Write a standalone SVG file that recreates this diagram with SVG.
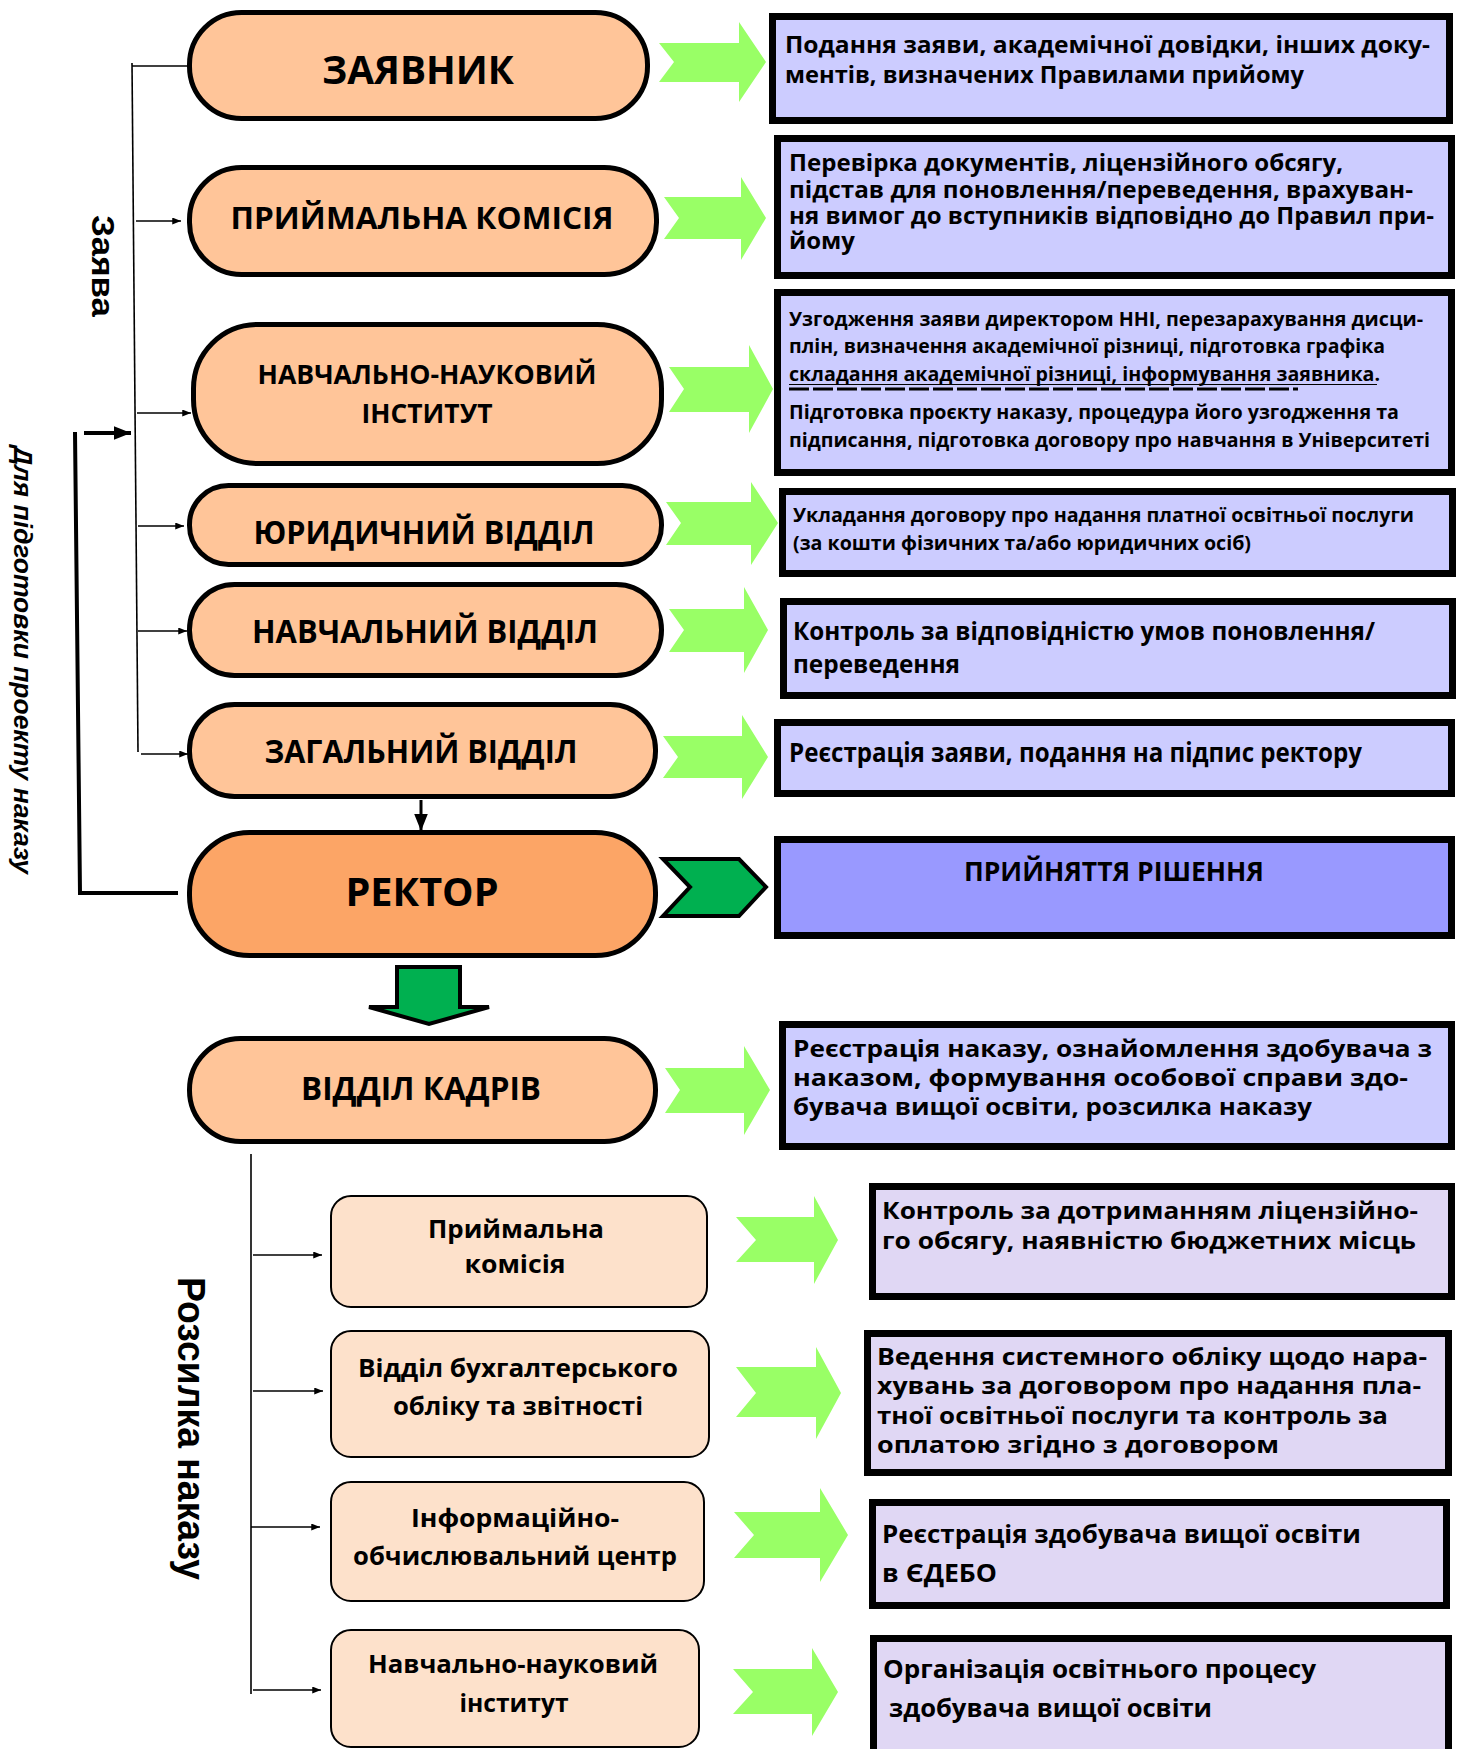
<svg xmlns="http://www.w3.org/2000/svg" width="1457" height="1749" viewBox="0 0 1457 1749">
<style>
text{font-family:"Open Sans","Noto Sans","DejaVu Sans",sans-serif;font-weight:bold;fill:#000}
.pill{fill:#FFC599;stroke:#000;stroke-width:5}
.rector{fill:#FCA566;stroke:#000;stroke-width:5}
.box{fill:#CCCCFF;stroke:#000;stroke-width:7}
.boxd{fill:#9999FF;stroke:#000;stroke-width:7}
.boxl{fill:#E0D7F4;stroke:#000;stroke-width:7}
.sub{fill:#FDE1CB;stroke:#000;stroke-width:2}
.ga{fill:#99FF66}
.dg{fill:#00B050;stroke:#000;stroke-width:4;stroke-linejoin:miter}
.thin{stroke:#000;stroke-width:1.6;fill:none}
.thick{stroke:#000;stroke-width:4;fill:none}
.pt{text-anchor:middle}
.side{font-family:"Liberation Sans",Arial,sans-serif;font-weight:bold}
</style>
<defs>
<marker id="ah" viewBox="0 0 10 8" refX="10" refY="4" markerWidth="9" markerHeight="7" markerUnits="userSpaceOnUse" orient="auto"><path d="M0,0 L10,4 L0,8 z" fill="#000"/></marker>
<marker id="ahb" viewBox="0 0 10 8" refX="10" refY="4" markerWidth="17" markerHeight="14" markerUnits="userSpaceOnUse" orient="auto"><path d="M0,0 L10,4 L0,8 z" fill="#000"/></marker>
</defs>

<g id="connectors">
<polyline class="thin" points="132,63 138,752"/>
<line class="thin" x1="132" y1="66" x2="189" y2="66"/>
<line class="thin" x1="136" y1="221" x2="181" y2="221" marker-end="url(#ah)"/>
<line class="thin" x1="137" y1="413" x2="191" y2="413" marker-end="url(#ah)"/>
<line class="thin" x1="138" y1="526" x2="184" y2="526" marker-end="url(#ah)"/>
<line class="thin" x1="138" y1="631" x2="187" y2="631" marker-end="url(#ah)"/>
<line class="thin" x1="141" y1="754" x2="188" y2="754" marker-end="url(#ah)"/>
<polyline class="thick" points="75,432 80,893 178,893"/>
<line class="thick" x1="84" y1="433" x2="131" y2="433" marker-end="url(#ahb)"/>
<line x1="421" y1="800" x2="421" y2="831" stroke="#000" stroke-width="3" marker-end="url(#ahb)"/>
<line class="thin" x1="251" y1="1154" x2="251" y2="1694" stroke-width="2"/>
<line class="thin" x1="253" y1="1255" x2="322" y2="1255" marker-end="url(#ah)"/>
<line class="thin" x1="253" y1="1391" x2="323" y2="1391" marker-end="url(#ah)"/>
<line class="thin" x1="251" y1="1527" x2="320" y2="1527" marker-end="url(#ah)"/>
<line class="thin" x1="253" y1="1690" x2="321" y2="1690" marker-end="url(#ah)"/>
<polygon class="ga" points="659,43 739,43 739,22 766,62 739,102 739,82 659,82 674,62"/>
<polygon class="ga" points="664,197 741,197 741,177 766,218 741,260 741,239 664,239 679,218"/>
<polygon class="ga" points="669,367 749,367 749,345 773,389 749,433 749,412 669,412 684,389"/>
<polygon class="ga" points="666,502 751,502 751,482 778,523 751,565 751,545 666,545 681,523"/>
<polygon class="ga" points="669,609 744,609 744,587 768,630 744,673 744,652 669,652 684,630"/>
<polygon class="ga" points="663,736 742,736 742,715 768,757 742,799 742,778 663,778 678,757"/>
<polygon class="ga" points="665,1068 744,1068 744,1046 770,1090 744,1135 744,1113 665,1113 680,1090"/>
<polygon class="ga" points="736,1217 814,1217 814,1196 838,1240 814,1284 814,1262 736,1262 756,1240"/>
<polygon class="ga" points="736,1367 816,1367 816,1347 841,1393 816,1439 816,1417 736,1417 756,1393"/>
<polygon class="ga" points="734,1512 820,1512 820,1488 848,1535 820,1582 820,1558 734,1558 754,1535"/>
<polygon class="ga" points="733,1669 812,1669 812,1648 838,1692 812,1736 812,1714 733,1714 753,1692"/>
<polygon class="dg" points="663,859 739,859 766,887 739,916 663,916 690,887"/>
<polygon class="dg" stroke-width="5" points="397,967 460,967 460,1007 489,1007 429,1024 369,1007 397,1007"/>
</g>

<g id="side-labels">
<text class="side" transform="translate(92,215) rotate(90)" font-size="32" textLength="102" lengthAdjust="spacingAndGlyphs">Заява</text>
<text class="side" transform="translate(14,446) rotate(90)" font-size="26" font-style="italic" textLength="428" lengthAdjust="spacingAndGlyphs">Для підготовки проекту наказу</text>
<text class="side" transform="translate(178,1277) rotate(90)" font-size="38" textLength="303" lengthAdjust="spacingAndGlyphs">Розсилка наказу</text>
</g>

<g id="n-zayavnyk">
<rect class="pill" x="189.5" y="12.5" width="458" height="106" rx="52"/>
<text class="pt" x="418" y="84" font-size="40" textLength="192" lengthAdjust="spacingAndGlyphs">ЗАЯВНИК</text>
</g>
<g id="n-pk">
<rect class="pill" x="189.5" y="167.5" width="467" height="107" rx="52"/>
<text class="pt" x="422" y="229" font-size="31" textLength="383" lengthAdjust="spacingAndGlyphs">ПРИЙМАЛЬНА КОМІСІЯ</text>
</g>
<g id="n-nni">
<rect class="pill" x="193.5" y="324.5" width="468" height="139" rx="64"/>
<text class="pt" x="427" y="384" font-size="27" textLength="339" lengthAdjust="spacingAndGlyphs">НАВЧАЛЬНО-НАУКОВИЙ</text>
<text class="pt" x="427" y="423" font-size="27" textLength="131" lengthAdjust="spacingAndGlyphs">ІНСТИТУТ</text>
</g>
<g id="n-yur">
<rect class="pill" x="189.5" y="485.5" width="472" height="79" rx="39"/>
<text class="pt" x="424" y="544" font-size="33" textLength="341" lengthAdjust="spacingAndGlyphs">ЮРИДИЧНИЙ ВІДДІЛ</text>
</g>
<g id="n-navch">
<rect class="pill" x="189.5" y="584.5" width="472" height="91" rx="45"/>
<text class="pt" x="425" y="643" font-size="33" textLength="346" lengthAdjust="spacingAndGlyphs">НАВЧАЛЬНИЙ ВІДДІЛ</text>
</g>
<g id="n-zag">
<rect class="pill" x="189.5" y="704.5" width="466" height="92" rx="45"/>
<text class="pt" x="421" y="763" font-size="33" textLength="313" lengthAdjust="spacingAndGlyphs">ЗАГАЛЬНИЙ ВІДДІЛ</text>
</g>
<g id="n-rector">
<rect class="rector" x="189.5" y="832.5" width="466" height="123" rx="60"/>
<text class="pt" x="422" y="906" font-size="40" textLength="153" lengthAdjust="spacingAndGlyphs">РЕКТОР</text>
</g>
<g id="n-kadry">
<rect class="pill" x="189.5" y="1038.5" width="466" height="103" rx="51"/>
<text class="pt" x="421" y="1100" font-size="32" textLength="240" lengthAdjust="spacingAndGlyphs">ВІДДІЛ КАДРІВ</text>
</g>

<g id="b-1">
<rect class="box" x="772.5" y="16.5" width="677" height="104"/>
<text x="785" y="53" font-size="24" textLength="645" lengthAdjust="spacingAndGlyphs">Подання заяви, академічної довідки, інших доку-</text>
<text x="785" y="83" font-size="24" textLength="519" lengthAdjust="spacingAndGlyphs">ментів, визначених Правилами прийому</text>
</g>
<g id="b-2">
<rect class="box" x="777.5" y="138.5" width="674" height="137"/>
<text x="789" y="171" font-size="23" textLength="554" lengthAdjust="spacingAndGlyphs">Перевірка документів, ліцензійного обсягу,</text>
<text x="789" y="198" font-size="23" textLength="624" lengthAdjust="spacingAndGlyphs">підстав для поновлення/переведення, врахуван-</text>
<text x="789" y="224" font-size="23" textLength="645" lengthAdjust="spacingAndGlyphs">ня вимог до вступників відповідно до Правил при-</text>
<text x="789" y="249" font-size="23" textLength="66" lengthAdjust="spacingAndGlyphs">йому</text>
</g>
<g id="b-3">
<rect class="box" x="777.5" y="292.5" width="674" height="180"/>
<text x="789" y="326" font-size="19" textLength="634" lengthAdjust="spacingAndGlyphs">Узгодження заяви директором ННІ, перезарахування дисци-</text>
<text x="789" y="353" font-size="19" textLength="596" lengthAdjust="spacingAndGlyphs">плін, визначення академічної різниці, підготовка графіка</text>
<text x="789" y="381" font-size="19" textLength="591" lengthAdjust="spacingAndGlyphs">складання академічної різниці, інформування заявника.</text>
<line x1="789" y1="384.5" x2="1377" y2="384.5" stroke="#000" stroke-width="1.2"/>
<line x1="789" y1="389" x2="1298" y2="389" stroke="#000" stroke-width="3" stroke-dasharray="20 4"/>
<text x="789" y="419" font-size="19" textLength="610" lengthAdjust="spacingAndGlyphs">Підготовка проєкту наказу, процедура його узгодження та</text>
<text x="789" y="447" font-size="19" textLength="641" lengthAdjust="spacingAndGlyphs">підписання, підготовка договору про навчання в Університеті</text>
</g>
<g id="b-4">
<rect class="box" x="782.5" y="491.5" width="670" height="82"/>
<text x="793" y="522" font-size="19.5" textLength="621" lengthAdjust="spacingAndGlyphs">Укладання договору про надання платної освітньої послуги</text>
<text x="793" y="550" font-size="19.5" textLength="458" lengthAdjust="spacingAndGlyphs">(за кошти фізичних та/або юридичних осіб)</text>
</g>
<g id="b-5">
<rect class="box" x="783.5" y="601.5" width="669" height="94"/>
<text x="793" y="640" font-size="25" textLength="582" lengthAdjust="spacingAndGlyphs">Контроль за відповідністю умов поновлення/</text>
<text x="793" y="673" font-size="25" textLength="167" lengthAdjust="spacingAndGlyphs">переведення</text>
</g>
<g id="b-6">
<rect class="box" x="777.5" y="722.5" width="674" height="71"/>
<text x="789" y="762" font-size="26" textLength="573" lengthAdjust="spacingAndGlyphs">Реєстрація заяви, подання на підпис ректору</text>
</g>
<g id="b-7">
<rect class="boxd" x="777.5" y="839.5" width="674" height="96"/>
<text class="pt" x="1114" y="881" font-size="26" textLength="300" lengthAdjust="spacingAndGlyphs">ПРИЙНЯТТЯ РІШЕННЯ</text>
</g>
<g id="b-8">
<rect class="box" x="782.5" y="1024.5" width="669" height="122"/>
<text x="793" y="1057" font-size="24" textLength="639" lengthAdjust="spacingAndGlyphs">Реєстрація наказу, ознайомлення здобувача з</text>
<text x="793" y="1086" font-size="24" textLength="615" lengthAdjust="spacingAndGlyphs">наказом, формування особової справи здо-</text>
<text x="793" y="1115" font-size="24" textLength="519" lengthAdjust="spacingAndGlyphs">бувача вищої освіти, розсилка наказу</text>
</g>
<g id="b-9">
<rect class="boxl" x="872.5" y="1186.5" width="579" height="110"/>
<text x="882" y="1219" font-size="24" textLength="536" lengthAdjust="spacingAndGlyphs">Контроль за дотриманням ліцензійно-</text>
<text x="882" y="1249" font-size="24" textLength="534" lengthAdjust="spacingAndGlyphs">го обсягу, наявністю бюджетних місць</text>
</g>
<g id="b-10">
<rect class="boxl" x="867.5" y="1333.5" width="581" height="139"/>
<text x="877" y="1365" font-size="24" textLength="550" lengthAdjust="spacingAndGlyphs">Ведення системного обліку щодо нара-</text>
<text x="877" y="1394" font-size="24" textLength="544" lengthAdjust="spacingAndGlyphs">хувань за договором про надання пла-</text>
<text x="877" y="1424" font-size="24" textLength="511" lengthAdjust="spacingAndGlyphs">тної освітньої послуги та контроль за</text>
<text x="877" y="1453" font-size="24" textLength="402" lengthAdjust="spacingAndGlyphs">оплатою згідно з договором</text>
</g>
<g id="b-11">
<rect class="boxl" x="872.5" y="1502.5" width="574" height="103"/>
<text x="882" y="1543" font-size="25" textLength="479" lengthAdjust="spacingAndGlyphs">Реєстрація здобувача вищої освіти</text>
<text x="882" y="1582" font-size="25" textLength="115" lengthAdjust="spacingAndGlyphs">в ЄДЕБО</text>
</g>
<g id="b-12">
<rect class="boxl" x="873.5" y="1638.5" width="575" height="140"/>
<text x="883" y="1678" font-size="25" textLength="433" lengthAdjust="spacingAndGlyphs">Організація освітнього процесу</text>
<text x="889" y="1717" font-size="25" textLength="323" lengthAdjust="spacingAndGlyphs">здобувача вищої освіти</text>
</g>

<g id="s-pk">
<rect class="sub" x="331" y="1196" width="376" height="111" rx="20"/>
<text class="pt" x="516" y="1238" font-size="25" textLength="176" lengthAdjust="spacingAndGlyphs">Приймальна</text>
<text class="pt" x="515" y="1273" font-size="25" textLength="101" lengthAdjust="spacingAndGlyphs">комісія</text>
</g>
<g id="s-buh">
<rect class="sub" x="331" y="1331" width="378" height="126" rx="20"/>
<text class="pt" x="518" y="1377" font-size="25" textLength="320" lengthAdjust="spacingAndGlyphs">Відділ бухгалтерського</text>
<text class="pt" x="518" y="1415" font-size="25" textLength="250" lengthAdjust="spacingAndGlyphs">обліку та звітності</text>
</g>
<g id="s-ioc">
<rect class="sub" x="331" y="1482" width="373" height="119" rx="20"/>
<text class="pt" x="515" y="1527" font-size="25" textLength="208" lengthAdjust="spacingAndGlyphs">Інформаційно-</text>
<text class="pt" x="515" y="1565" font-size="25" textLength="324" lengthAdjust="spacingAndGlyphs">обчислювальний центр</text>
</g>
<g id="s-nni">
<rect class="sub" x="331" y="1630" width="368" height="117" rx="20"/>
<text class="pt" x="513" y="1673" font-size="25" textLength="290" lengthAdjust="spacingAndGlyphs">Навчально-науковий</text>
<text class="pt" x="514" y="1712" font-size="25" textLength="109" lengthAdjust="spacingAndGlyphs">інститут</text>
</g>
</svg>
